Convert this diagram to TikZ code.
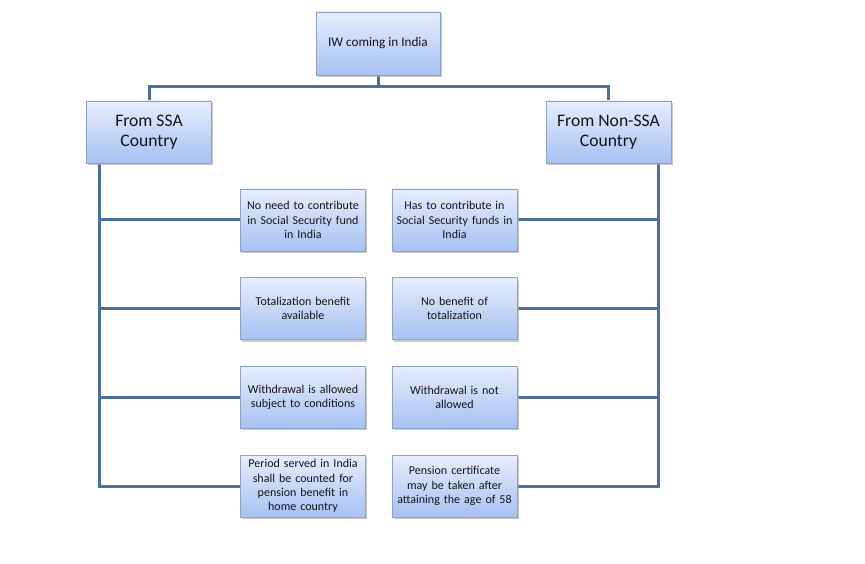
\documentclass[tikz,border=0pt]{standalone}
\usepackage{fontspec}
\setmainfont{Carlito}
\usetikzlibrary{shadows,backgrounds}
\definecolor{linec}{HTML}{4A6FA5}
\definecolor{boxtop}{HTML}{E6EEFD}
\definecolor{boxbot}{HTML}{A6C1F2}
\definecolor{boxline}{HTML}{8EA3C4}
\definecolor{txt}{HTML}{141414}
\tikzset{
  boxbase/.style={rectangle, draw=boxline, line width=0.8pt, top color=boxtop, bottom color=boxbot,
    drop shadow={shadow xshift=1.5pt, shadow yshift=-2pt, fill=black!35, opacity=0.6},
    align=center, text=txt, inner sep=1pt},
  topbox/.style={boxbase, minimum width=124pt, minimum height=63pt, font=\fontsize{13.2}{16}\selectfont},
  bigbox/.style={boxbase, minimum width=125pt, minimum height=62pt, font=\fontsize{17.6}{20}\selectfont},
  smallbox/.style={boxbase, minimum width=125pt, minimum height=62pt, text width=123pt, font=\fontsize{12}{14.2}\selectfont},
  conn/.style={draw=linec, line width=3pt}
}
\begin{document}
\begin{tikzpicture}[x=1pt,y=-1pt]
\useasboundingbox (0,0) rectangle (865,564);
\coordinate (bus) at (378,87);
\coordinate (lx) at (99,0);
\coordinate (rx) at (658,0);

\node[topbox] (top) at (378,43.5) {IW coming in India};
\node[bigbox] (ssa) at (149,132) {From SSA\\Country};
\node[bigbox] (nonssa) at (608.5,132) {From Non-SSA\\Country};

\node[smallbox] (l1) at (303,220) {No need to contribute\\in Social Security fund\\in India};
\node[smallbox] (l2) at (303,308.5) {Totalization benefit\\available};
\node[smallbox] (l3) at (303,397) {Withdrawal is allowed\\subject to conditions};
\node[smallbox] (l4) at (303,486) {Period served in India\\shall be counted for\\pension benefit in\\home country};

\node[smallbox] (r1) at (454.5,220) {Has to contribute in\\Social Security funds in\\India};
\node[smallbox] (r2) at (454.5,308.5) {No benefit of\\totalization};
\node[smallbox] (r3) at (454.5,397) {Withdrawal is not\\allowed};
\node[smallbox] (r4) at (454.5,486) {Pension certificate\\may be taken after\\attaining the age of 58};

\begin{scope}[on background layer]
\draw[conn] (top.south) -- (bus);
\draw[conn] (ssa.north) |- (bus) -| (nonssa.north);
\draw[conn] (lx |- ssa.south) |- (l4.west);
\draw[conn] (l1.west) -- (l1.west -| lx);
\draw[conn] (l2.west) -- (l2.west -| lx);
\draw[conn] (l3.west) -- (l3.west -| lx);
\draw[conn] (rx |- nonssa.south) |- (r4.east);
\draw[conn] (r1.east) -- (r1.east -| rx);
\draw[conn] (r2.east) -- (r2.east -| rx);
\draw[conn] (r3.east) -- (r3.east -| rx);
\end{scope}
\end{tikzpicture}
\end{document}
